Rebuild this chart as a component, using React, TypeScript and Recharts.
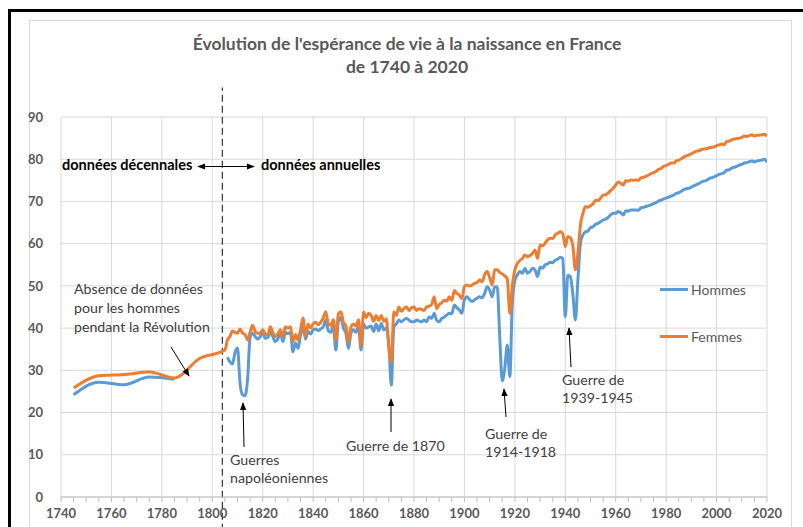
import React from 'react'
import {
  LineChart,
  Line,
  XAxis,
  YAxis,
  CartesianGrid,
  ReferenceLine,
  Legend
} from 'recharts'

// données décennales (milieu de décennie), puis annuelles à partir de 1806
const anneesDecennales = [1745, 1755, 1765, 1775, 1785, 1795, 1805]
const hommesDecennal = [24.2, 27.2, 26.6, 28.4, 27.9, null, null]
const femmesDecennal = [25.8, 28.7, 29.0, 29.6, 28.2, 32.8, 34.8]

const debutAnnuel = 1806
const hommesAnnuel = [
  33.1, 32.0, 31.5, 34.2,
  35.3, 27.0, 24.2, 24.0, 28.0, 37.8, 38.8, 38.0, 37.4, 38.0,
  39.2, 37.6, 37.8, 39.0, 38.0, 36.8, 37.4, 39.0, 36.8, 39.0,
  38.7, 39.0, 34.4, 36.5, 35.2, 38.4, 40.3, 37.4, 39.2, 38.6,
  39.6, 39.8, 39.4, 39.8, 40.3, 41.9, 39.4, 39.0, 40.6, 34.8,
  41.5, 42.5, 40.0, 38.8, 35.2, 38.8, 39.6, 39.0, 40.3, 34.8,
  41.0, 40.0, 40.3, 40.5, 39.2, 41.0, 39.4, 41.1, 39.6, 40.0,
  36.4, 26.5, 40.3, 41.0, 41.9, 41.5, 42.0, 42.3, 41.9, 41.5,
  41.5, 41.9, 41.7, 41.5, 41.9, 41.5, 42.7, 42.3, 43.5, 41.8,
  41.5, 42.3, 42.6, 43.1, 43.5, 43.4, 45.5, 44.8, 44.3, 43.5,
  46.7, 47.4, 46.8, 46.3, 46.7, 47.1, 47.4, 47.2, 48.2, 49.8,
  49.0, 47.4, 49.8, 49.8, 38.0, 27.5, 30.5, 36.0, 28.5, 46.0,
  51.3, 52.6, 53.4, 53.0, 54.2, 53.0, 53.4, 54.2, 53.8, 52.2,
  54.5, 54.2, 55.0, 55.2, 55.6, 55.5, 56.1, 56.3, 56.8, 56.5,
  42.7, 52.5, 52.2, 48.0, 41.9, 51.4, 60.0, 62.1, 62.8, 63.0,
  63.8, 64.0, 64.6, 64.8, 65.2, 65.6, 65.8, 66.2, 66.8, 67.2,
  67.2, 67.6, 67.3, 66.8, 67.8, 67.7, 68.0, 68.0, 68.0, 67.9,
  68.5, 68.6, 68.8, 69.0, 69.2, 69.5, 69.7, 70.1, 70.3, 70.6,
  70.8, 71.0, 71.3, 71.5, 71.9, 72.1, 72.4, 72.8, 73.0, 73.1,
  73.4, 73.7, 74.0, 74.2, 74.6, 74.8, 75.0, 75.4, 75.6, 75.8,
  76.1, 76.4, 76.6, 76.8, 77.4, 77.5, 77.9, 78.1, 78.3, 78.6,
  78.8, 79.1, 79.2, 79.4, 79.6, 79.4, 79.6, 79.7, 79.8, 80.0,
  79.3
]
const femmesAnnuel = [
  37.2, 38.0, 39.3, 39.0,
  38.8, 39.8, 38.8, 38.5, 37.2, 39.0, 40.7, 39.2, 38.8, 38.8,
  39.6, 38.6, 38.4, 40.3, 39.0, 38.0, 38.6, 39.6, 38.0, 40.3,
  40.0, 40.3, 36.8, 38.5, 37.2, 39.6, 42.4, 38.0, 41.0, 40.0,
  41.0, 41.4, 40.8, 41.4, 42.4, 43.9, 41.0, 40.7, 42.0, 37.2,
  43.4, 43.9, 41.4, 40.5, 36.5, 40.3, 41.0, 40.5, 42.0, 35.8,
  43.8, 42.5, 43.5, 43.0, 41.6, 43.0, 41.8, 43.0, 41.6, 42.2,
  35.6, 31.8, 43.9, 43.0, 45.0, 44.0, 44.6, 45.0, 44.2, 44.8,
  45.0, 44.2, 44.6, 44.4, 44.2, 45.0, 45.2, 45.6, 47.4, 44.6,
  45.6, 46.0, 46.6, 46.4, 47.4, 46.6, 48.9, 48.2, 47.8, 47.0,
  49.8, 50.2, 50.0, 50.2, 50.6, 50.8, 51.4, 51.0, 52.6, 53.4,
  52.0, 50.2, 53.8, 53.8, 53.2, 52.8, 52.4, 51.6, 43.5, 50.0,
  53.8, 55.3, 56.0, 56.5, 57.3, 56.9, 57.2, 57.7, 58.5, 56.5,
  59.7, 59.5, 60.1, 60.9, 61.3, 61.2, 62.1, 62.5, 62.8, 62.4,
  59.3, 61.7, 61.4, 59.5, 53.8, 57.7, 64.4, 67.2, 68.8, 68.6,
  69.0, 69.4, 70.3, 70.2, 70.8, 71.5, 71.6, 72.0, 72.6, 73.1,
  73.9, 74.6, 74.3, 73.9, 74.9, 74.8, 75.1, 75.0, 75.1, 75.0,
  75.6, 75.7, 76.0, 76.2, 76.6, 76.8, 77.1, 77.6, 77.8, 78.3,
  78.5, 78.8, 79.1, 79.1, 79.6, 79.8, 80.1, 80.5, 80.8, 81.0,
  81.3, 81.6, 81.9, 82.0, 82.3, 82.4, 82.5, 82.7, 82.8, 82.9,
  83.2, 83.4, 83.6, 83.4, 84.2, 84.3, 84.6, 84.8, 84.9, 85.0,
  85.2, 85.5, 85.4, 85.6, 85.8, 85.5, 85.7, 85.7, 85.8, 85.9,
  85.4
]

const series = ['Hommes', 'Femmes']
const ticksAnnees = [1740, 1760, 1780, 1800, 1820, 1840, 1860, 1880, 1900, 1920, 1940, 1960, 1980, 2000, 2020]
const ticksMineurs = Array.from({ length: 57 }, (_, i) => 1740 + i * 5)
const ticksAge = [0, 10, 20, 30, 40, 50, 60, 70, 80, 90]
const anneeRupture = 1804

const donnees = [
  ...anneesDecennales.map((annee, i) => ({ annee, hommes: hommesDecennal[i], femmes: femmesDecennal[i] })),
  ...femmesAnnuel.map((f, i) => ({ annee: debutAnnuel + i, hommes: hommesAnnuel[i], femmes: f }))
]

const police = 'Lato, "Open Sans", sans-serif'
const BLEU = '#5b9bd5'
const ORANGE = '#ed7d31'
const GRIS = '#595959'

function TickAnnee(props: any) {
  const { x, y, payload } = props
  if (payload.value % 20 !== 0) return <g />
  return (
    <text x={x} y={y} dy={14} textAnchor="middle" fill={GRIS} fontSize={13} fontWeight={700} fontFamily={police}>
      {payload.value}
    </text>
  )
}

function LegendeSexes({ payload }: any) {
  const items = [...(payload || [])].sort((a: any, b: any) => series.indexOf(a.value) - series.indexOf(b.value))
  return (
    <div style={{ fontFamily: police, fontSize: 14, color: GRIS }}>
      {items.map((p: any) => (
        <div key={p.value} style={{ display: 'flex', alignItems: 'center', height: 22, marginBottom: 25 }}>
          <span style={{ display: 'inline-block', width: 28, height: 3, background: p.color, marginRight: 3 }} />
          {p.value}
        </div>
      ))}
    </div>
  )
}

function Fleche({ x1, y1, x2, y2 }: { x1: number; y1: number; y2: number; x2: number }) {
  return <line x1={x1} y1={y1} x2={x2} y2={y2} stroke="#000" strokeWidth={1} markerEnd="url(#pointe)" />
}

export default function App() {
  const txt = { fontFamily: police, fontSize: 14.2, fill: '#404040', dominantBaseline: 'central' as const }
  return (
    <div style={{ position: 'absolute', left: 0, top: 0, width: 803, height: 527, overflow: 'hidden', background: '#fff' }}>
      <div style={{ position: 'absolute', left: 8, top: 9, right: 0, bottom: 0, borderLeft: '3px solid #000', borderTop: '3px solid #000' }} />
      <div style={{ position: 'absolute', left: 29, top: 20, width: 761, height: 540, border: '1px solid #d9d9d9' }} />

      <div style={{ position: 'absolute', left: 0, top: 0 }}>
        <LineChart width={803} height={527} data={donnees} margin={{ top: 117, right: 36, bottom: 0, left: 21 }}>
          <CartesianGrid stroke="#d9d9d9" verticalValues={ticksAnnees} horizontalValues={ticksAge} />
          <XAxis
            dataKey="annee"
            type="number"
            domain={[1740, 2020]}
            ticks={ticksMineurs}
            interval={0}
            allowDataOverflow
            height={30}
            tickSize={5}
            tickLine={{ stroke: '#bfbfbf' }}
            axisLine={{ stroke: '#bfbfbf' }}
            tick={TickAnnee}
          />
          <YAxis
            type="number"
            domain={[0, 90]}
            ticks={ticksAge}
            interval={0}
            width={40}
            tickLine={false}
            axisLine={false}
            tickSize={0}
            tickMargin={18}
            tick={{ fill: GRIS, fontSize: 13, fontWeight: 700, fontFamily: police }}
          />
          <ReferenceLine
            segment={[{ x: anneeRupture, y: -8 }, { x: anneeRupture, y: 97 }]}
            ifOverflow="visible"
            stroke="#404040"
            strokeWidth={1.3}
            strokeDasharray="7 4"
          />
          <Line
            type="monotone"
            dataKey="hommes"
            name="Hommes"
            stroke={BLEU}
            strokeWidth={3}
            dot={false}
            activeDot={false}
            isAnimationActive={false}
          />
          <Line
            type="monotone"
            dataKey="femmes"
            name="Femmes"
            stroke={ORANGE}
            strokeWidth={3}
            dot={false}
            activeDot={false}
            isAnimationActive={false}
          />
          <Legend
            layout="vertical"
            align="center"
            verticalAlign="middle"
            content={LegendeSexes}
            wrapperStyle={{ left: 660, top: 278, width: 120 }}
          />
        </LineChart>
      </div>

      <svg width={803} height={527} style={{ position: 'absolute', left: 0, top: 0, pointerEvents: 'none' }}>
        <defs>
          <marker id="pointe" viewBox="0 0 10 10" refX="9" refY="5" markerWidth="8" markerHeight="8" orient="auto-start-reverse">
            <path d="M0,1 L10,5 L0,9 z" fill="#000" />
          </marker>
        </defs>
        <text x={407} y={43} textAnchor="middle" dominantBaseline="central" fontFamily={police} fontSize={17.5} fontWeight={700} fill={GRIS}>
          Évolution de l'espérance de vie à la naissance en France
        </text>
        <text x={407} y={66} textAnchor="middle" dominantBaseline="central" fontFamily={police} fontSize={17.5} fontWeight={700} fill={GRIS}>
          de 1740 à 2020
        </text>

        <text x={62} y={164} {...txt} fill="#000" fontWeight={700} fontSize={14.5}>données décennales</text>
        <text x={261} y={164} {...txt} fill="#000" fontWeight={700} fontSize={14.5}>données annuelles</text>
        <line x1={198} y1={166.5} x2={254} y2={166.5} stroke="#000" strokeWidth={1} markerStart="url(#pointe)" markerEnd="url(#pointe)" />

        <text x={74} y={288} {...txt}>Absence de données</text>
        <text x={74} y={307} {...txt}>pour les hommes</text>
        <text x={74} y={326} {...txt}>pendant la Révolution</text>
        <Fleche x1={171} y1={347} x2={189} y2={376} />

        <text x={230} y={459} {...txt}>Guerres</text>
        <text x={230} y={477} {...txt}>napoléoniennes</text>
        <Fleche x1={244} y1={447} x2={243} y2={403} />

        <text x={346} y={445} {...txt}>Guerre de 1870</text>
        <Fleche x1={391} y1={432} x2={391} y2={399} />

        <text x={485} y={433} {...txt}>Guerre de</text>
        <text x={485} y={451} {...txt}>1914-1918</text>
        <Fleche x1={506} y1={417} x2={504} y2={389} />

        <text x={562} y={379} {...txt}>Guerre de</text>
        <text x={562} y={397} {...txt}>1939-1945</text>
        <Fleche x1={571} y1={367} x2={569} y2={328} />
      </svg>
    </div>
  )
}
